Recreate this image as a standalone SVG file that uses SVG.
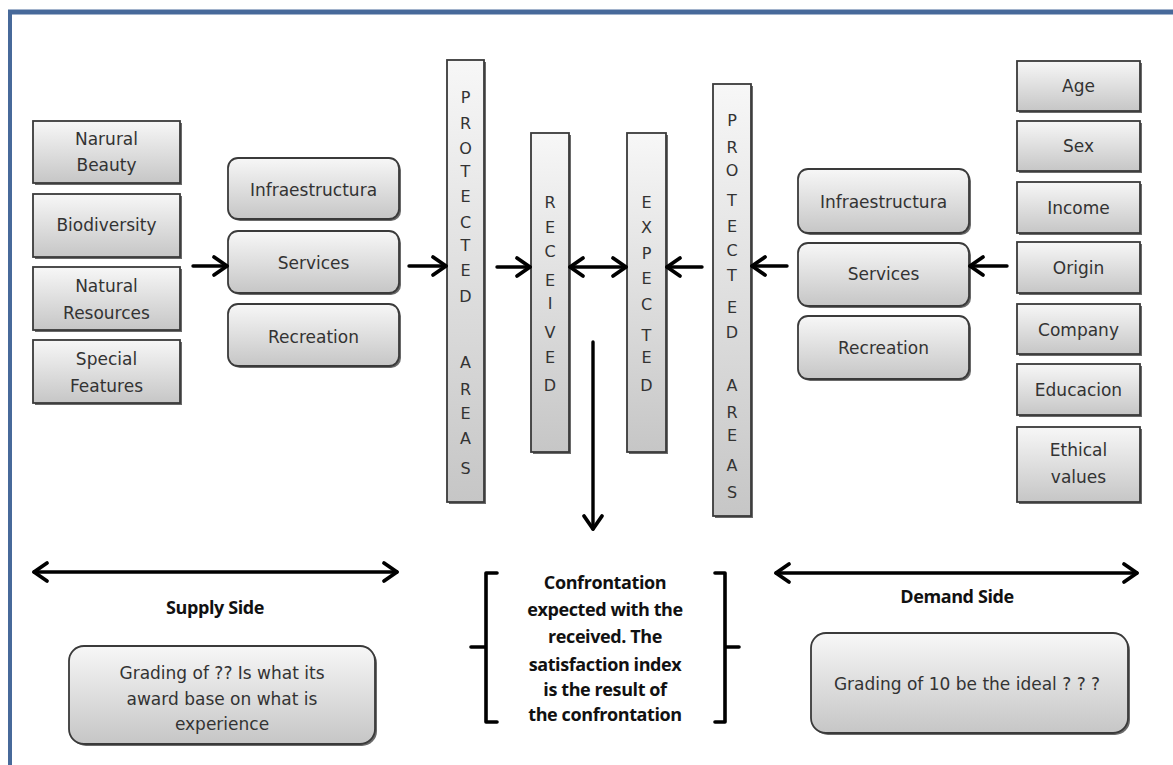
<svg xmlns="http://www.w3.org/2000/svg" width="1173" height="765" viewBox="0 0 1173 765">
<defs>
<linearGradient id="g" x1="0" y1="0" x2="0" y2="1">
<stop offset="0" stop-color="#f7f7f7"/>
<stop offset="1" stop-color="#c6c6c6"/>
</linearGradient>
<marker id="ah" markerUnits="userSpaceOnUse" markerWidth="22" markerHeight="24" viewBox="0 0 22 24" refX="18" refY="12" orient="auto-start-reverse">
<path d="M5,3 L18,12 L5,21" fill="none" stroke="#000" stroke-width="3.8" stroke-linecap="round" stroke-linejoin="round"/>
</marker>
</defs>
<style>
.box{fill:url(#g);stroke:#3a3a3a;stroke-width:1.8}
.bar{fill:url(#g);stroke:#3a3a3a;stroke-width:1.8}
.sh{fill:#6a6a6a}
.t{font-family:"DejaVu Sans","Open Sans",sans-serif;font-size:17px;fill:#333;text-anchor:middle}
.v{font-family:"DejaVu Sans","Open Sans",sans-serif;font-size:16px;fill:#333;text-anchor:middle}
.b{font-family:"Open Sans","Liberation Sans",sans-serif;font-size:18px;font-weight:bold;fill:#111;text-anchor:middle;letter-spacing:-0.4px}
.big{font-family:"DejaVu Sans","Open Sans",sans-serif;font-size:17px;fill:#333;text-anchor:middle}
.c{fill:none;stroke:#000;stroke-width:3.4;stroke-linecap:round}
.frame{stroke:#47699a;fill:none}
</style>
<rect width="1173" height="765" fill="#fff"/>
<g id="frame">
<line class="frame" x1="8" y1="12" x2="1173" y2="12" stroke-width="5"/>
<line class="frame" x1="10" y1="10" x2="10" y2="765" stroke-width="4"/>
</g>

<g id="narural-beauty"><rect class="sh" x="35" y="123" width="147" height="62"/><rect class="box" x="33" y="121" width="147" height="62"/><text class="t" x="106.5" y="145">Narural</text><text class="t" x="106.5" y="171">Beauty</text></g>
<g id="biodiversity"><rect class="sh" x="35" y="196" width="147" height="63"/><rect class="box" x="33" y="194" width="147" height="63"/><text class="t" x="106.5" y="231">Biodiversity</text></g>
<g id="natural-resources"><rect class="sh" x="35" y="269" width="147" height="63"/><rect class="box" x="33" y="267" width="147" height="63"/><text class="t" x="106.5" y="292">Natural</text><text class="t" x="106.5" y="319">Resources</text></g>
<g id="special-features"><rect class="sh" x="35" y="342" width="147" height="63"/><rect class="box" x="33" y="340" width="147" height="63"/><text class="t" x="106.5" y="365">Special</text><text class="t" x="106.5" y="392">Features</text></g>

<g id="infra-l"><rect class="sh" x="230" y="160" width="171" height="61" rx="10"/><rect class="box" x="228" y="158" width="171" height="61" rx="10"/><text class="t" x="313.5" y="196">Infraestructura</text></g>
<g id="services-l"><rect class="sh" x="230" y="233" width="171" height="62" rx="10"/><rect class="box" x="228" y="231" width="171" height="62" rx="10"/><text class="t" x="313.5" y="269">Services</text></g>
<g id="recreation-l"><rect class="sh" x="230" y="306" width="171" height="62" rx="10"/><rect class="box" x="228" y="304" width="171" height="62" rx="10"/><text class="t" x="313.5" y="343">Recreation</text></g>

<g id="pa-left"><rect class="sh" x="449" y="62" width="37" height="442"/><rect class="bar" x="447" y="60" width="37" height="442"/>
<text class="v" x="465.5" y="103">P</text><text class="v" x="465.5" y="129">R</text><text class="v" x="465.5" y="154">O</text><text class="v" x="465.5" y="177">T</text><text class="v" x="465.5" y="202">E</text><text class="v" x="465.5" y="228">C</text><text class="v" x="465.5" y="251">T</text><text class="v" x="465.5" y="276">E</text><text class="v" x="465.5" y="302">D</text><text class="v" x="465.5" y="368">A</text><text class="v" x="465.5" y="395">R</text><text class="v" x="465.5" y="419">E</text><text class="v" x="465.5" y="444">A</text><text class="v" x="465.5" y="474">S</text></g>

<g id="received"><rect class="sh" x="533" y="135" width="38" height="319"/><rect class="bar" x="531" y="133" width="38" height="319"/>
<text class="v" x="550" y="208">R</text><text class="v" x="550" y="233">E</text><text class="v" x="550" y="257">C</text><text class="v" x="550" y="286">E</text><text class="v" x="550" y="309">I</text><text class="v" x="550" y="338">V</text><text class="v" x="550" y="363">E</text><text class="v" x="550" y="391">D</text></g>

<g id="expected"><rect class="sh" x="629" y="135" width="39" height="319"/><rect class="bar" x="627" y="133" width="39" height="319"/>
<text class="v" x="646.5" y="208">E</text><text class="v" x="646.5" y="233">X</text><text class="v" x="646.5" y="259">P</text><text class="v" x="646.5" y="284">E</text><text class="v" x="646.5" y="310">C</text><text class="v" x="646.5" y="341">T</text><text class="v" x="646.5" y="363">E</text><text class="v" x="646.5" y="391">D</text></g>

<g id="pa-right"><rect class="sh" x="715" y="86" width="38" height="432"/><rect class="bar" x="713" y="84" width="38" height="432"/>
<text class="v" x="732" y="126">P</text><text class="v" x="732" y="153">R</text><text class="v" x="732" y="176">O</text><text class="v" x="732" y="206">T</text><text class="v" x="732" y="232">E</text><text class="v" x="732" y="256">C</text><text class="v" x="732" y="281">T</text><text class="v" x="732" y="313">E</text><text class="v" x="732" y="338">D</text><text class="v" x="732" y="391">A</text><text class="v" x="732" y="418">R</text><text class="v" x="732" y="441">E</text><text class="v" x="732" y="471">A</text><text class="v" x="732" y="498">S</text></g>

<g id="infra-r"><rect class="sh" x="800" y="171" width="171" height="64" rx="10"/><rect class="box" x="798" y="169" width="171" height="64" rx="10"/><text class="t" x="883.5" y="208">Infraestructura</text></g>
<g id="services-r"><rect class="sh" x="800" y="245" width="171" height="63" rx="10"/><rect class="box" x="798" y="243" width="171" height="63" rx="10"/><text class="t" x="883.5" y="280">Services</text></g>
<g id="recreation-r"><rect class="sh" x="800" y="318" width="171" height="63" rx="10"/><rect class="box" x="798" y="316" width="171" height="63" rx="10"/><text class="t" x="883.5" y="354">Recreation</text></g>

<g id="age"><rect class="sh" x="1019" y="63" width="123" height="50"/><rect class="box" x="1017" y="61" width="123" height="50"/><text class="t" x="1078.5" y="92">Age</text></g>
<g id="sex"><rect class="sh" x="1019" y="123" width="123" height="50"/><rect class="box" x="1017" y="121" width="123" height="50"/><text class="t" x="1078.5" y="152">Sex</text></g>
<g id="income"><rect class="sh" x="1019" y="184" width="123" height="51"/><rect class="box" x="1017" y="182" width="123" height="51"/><text class="t" x="1078.5" y="214">Income</text></g>
<g id="origin"><rect class="sh" x="1019" y="244" width="123" height="51"/><rect class="box" x="1017" y="242" width="123" height="51"/><text class="t" x="1078.5" y="274">Origin</text></g>
<g id="company"><rect class="sh" x="1019" y="306" width="123" height="50"/><rect class="box" x="1017" y="304" width="123" height="50"/><text class="t" x="1078.5" y="336">Company</text></g>
<g id="educacion"><rect class="sh" x="1019" y="366" width="123" height="51"/><rect class="box" x="1017" y="364" width="123" height="51"/><text class="t" x="1078.5" y="396">Educacion</text></g>
<g id="ethical"><rect class="sh" x="1019" y="429" width="123" height="75"/><rect class="box" x="1017" y="427" width="123" height="75"/><text class="t" x="1078.5" y="456">Ethical</text><text class="t" x="1078.5" y="483">values</text></g>

<g id="connectors">
<line class="c" x1="193" y1="266" x2="227" y2="266" marker-end="url(#ah)"/>
<line class="c" x1="409" y1="266" x2="446" y2="266" marker-end="url(#ah)"/>
<line class="c" x1="497" y1="267" x2="530" y2="267" marker-end="url(#ah)"/>
<line class="c" x1="570" y1="267" x2="626" y2="267" marker-start="url(#ah)" marker-end="url(#ah)"/>
<line class="c" x1="702" y1="267" x2="667" y2="267" marker-end="url(#ah)"/>
<line class="c" x1="787" y1="266" x2="752" y2="266" marker-end="url(#ah)"/>
<line class="c" x1="1007" y1="266" x2="970" y2="266" marker-end="url(#ah)"/>
<line class="c" x1="593" y1="342" x2="593" y2="529" marker-end="url(#ah)"/>
<line class="c" x1="34" y1="572" x2="397" y2="572" marker-start="url(#ah)" marker-end="url(#ah)"/>
<line class="c" x1="776" y1="573" x2="1137" y2="573" marker-start="url(#ah)" marker-end="url(#ah)"/>
</g>

<g id="supply-side"><text class="b" x="215" y="614">Supply Side</text></g>
<g id="demand-side"><text class="b" x="957" y="603">Demand Side</text></g>

<g id="grading-supply"><rect class="sh" x="71" y="648" width="306" height="98" rx="15"/><rect class="box" x="69" y="646" width="306" height="98" rx="15"/>
<text class="big" x="222" y="679">Grading of ?? Is what its</text><text class="big" x="222" y="705">award base on what is</text><text class="big" x="222" y="730">experience</text></g>

<g id="grading-demand"><rect class="sh" x="813" y="635" width="317" height="100" rx="15"/><rect class="box" x="811" y="633" width="317" height="100" rx="15"/>
<text class="big" x="967" y="690">Grading of 10 be the ideal ? ? ?</text></g>

<g id="confrontation">
<path d="M497,573 L486,573 L486,722 L497,722 M486,647 L471,647" fill="none" stroke="#000" stroke-width="3.6" stroke-linejoin="round" stroke-linecap="round"/>
<path d="M715,573 L725,573 L725,722 L715,722 M725,647 L739,647" fill="none" stroke="#000" stroke-width="3.6" stroke-linejoin="round" stroke-linecap="round"/>
<text class="b" x="605" y="589">Confrontation</text>
<text class="b" x="605" y="616">expected with the</text>
<text class="b" x="605" y="643">received. The</text>
<text class="b" x="605" y="671">satisfaction  index</text>
<text class="b" x="605" y="696">is the result of</text>
<text class="b" x="605" y="721">the confrontation</text>
</g>
</svg>
